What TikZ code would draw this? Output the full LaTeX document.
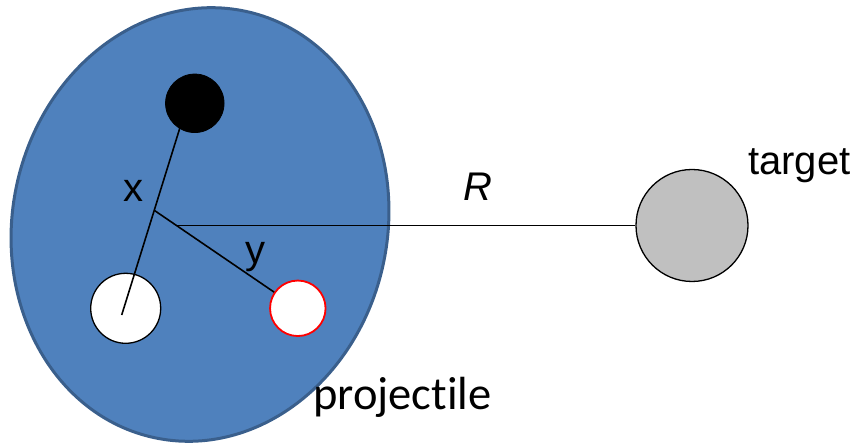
\documentclass[tikz,border=0pt]{standalone}
\usepackage{fontspec}
\setmainfont{Liberation Sans}
\newfontfamily\carlito[RawFeature=-liga]{Carlito}
\definecolor{projfill}{HTML}{4F81BD}
\definecolor{projedge}{HTML}{3A5F8C}
\definecolor{targfill}{HTML}{C0C0C0}
\begin{document}
\begin{tikzpicture}[x=1pt,y=1pt,
  ball/.style={circle,draw=black,line width=1.3pt,inner sep=0pt},
  conn/.style={draw=black,line width=1.6pt},
  lbl/.style={inner sep=0pt,font=\fontsize{40}{48}\selectfont}]
\useasboundingbox (0,0) rectangle (860,-443);
% projectile body
\draw[projedge,fill=projfill,line width=3pt,rotate around={-12:(200,-224.5)}]
  (200,-224.5) ellipse [x radius=187.5, y radius=218];
% particles
\node[ball,fill=white,minimum size=70pt] (w) at (125.7,-308.3) {};
\node[ball,fill=white,draw=red,line width=1.8pt,minimum size=55.5pt] (r) at (297.8,-308.3) {};
\node[ball,fill=targfill,minimum size=112pt] (t) at (692,-225.5) {};
% connectors
\coordinate (btop) at (187,-105);
\coordinate (bend) at (121.7,-315);
\coordinate (j1) at (154.8,-210.7);
\coordinate (j2) at (176.5,-225.5);
\draw[conn] (btop) -- (bend);
\draw[conn] (j1) -- (r);
\draw[conn] (j2) -- (t.west);
\node[ball,fill=black,minimum size=58.5pt,line width=0.8pt] (b) at (194.8,-103.3) {};
% labels
\node[lbl] (lx) at (133,-191) {x};
\node[lbl] (ly) at (255,-257) {y};
\node[lbl] (lR) at (478,-187) {\itshape R};
\node[lbl,anchor=base west] (lt) at (748,-175) {target};
\node[lbl,anchor=base west,font=\carlito\fontsize{46.5}{56}\selectfont] (lp) at (313,-410) {projectile};
\end{tikzpicture}
\end{document}
